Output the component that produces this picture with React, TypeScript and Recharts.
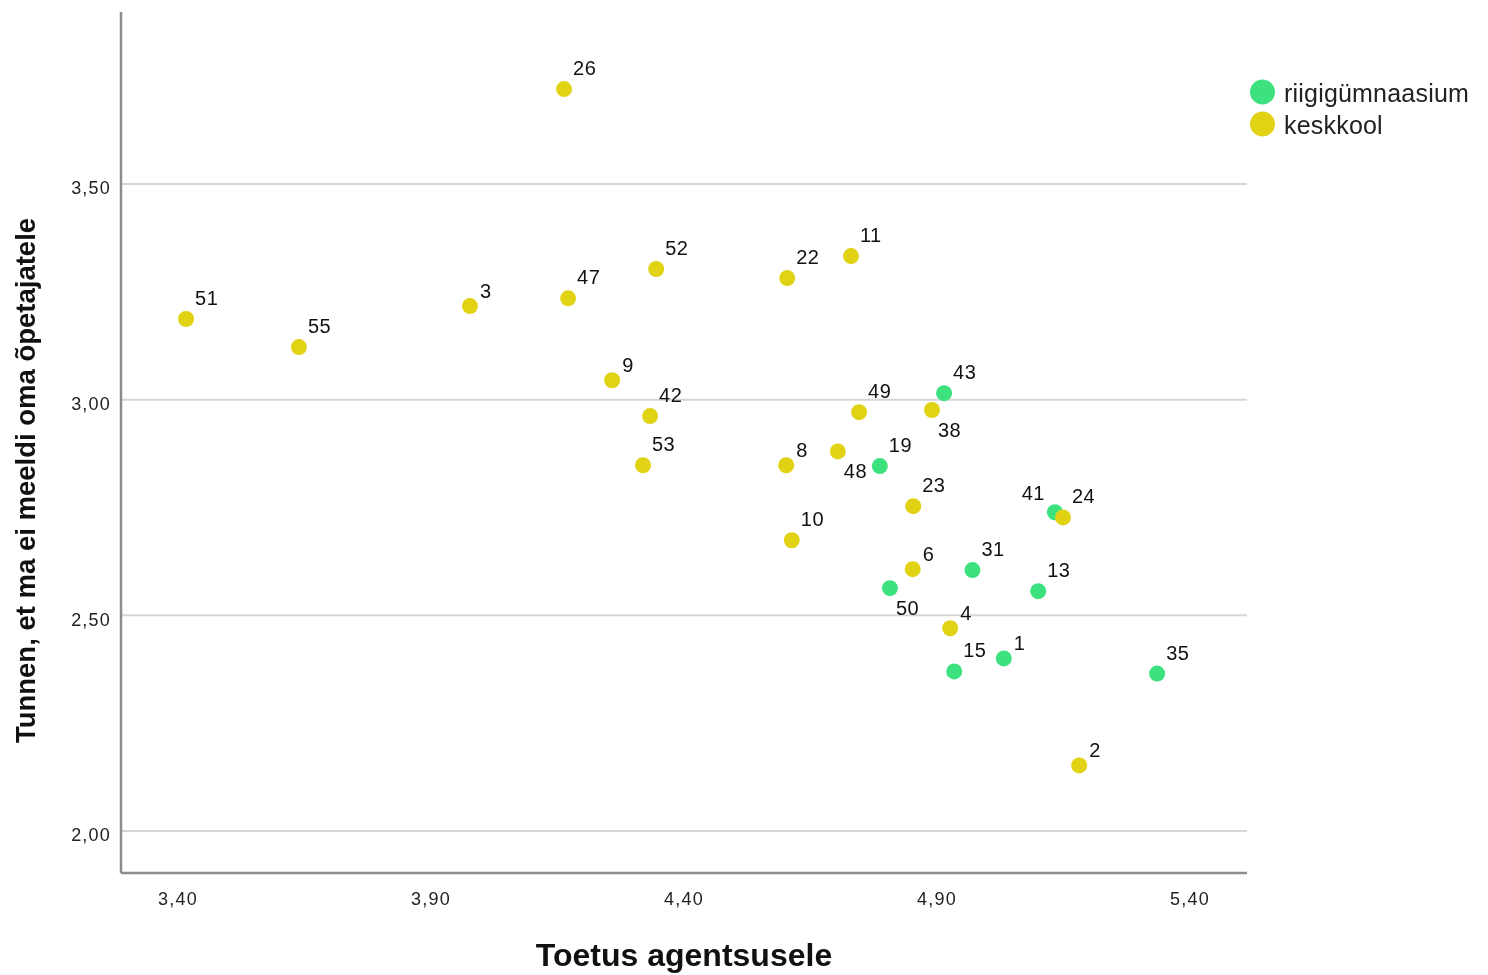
import React from 'react';
import { ScatterChart, Scatter, XAxis, YAxis, CartesianGrid, Legend, Label } from 'recharts';

// ---- data ----
const gymIds = [43, 19, 41, 31, 50, 13, 1, 15, 35];
const gymX = [4.914, 4.787, 5.133, 4.970, 4.807, 5.100, 5.032, 4.934, 5.335];
const gymY = [3.015, 2.846, 2.739, 2.605, 2.563, 2.556, 2.400, 2.370, 2.365];

const kesIds = [26, 51, 55, 3, 47, 52, 22, 11, 9, 42, 53, 8, 49, 48, 38, 23, 24, 10, 6, 4, 2];
const kesX = [4.163, 3.416, 3.639, 3.977, 4.171, 4.345, 4.604, 4.730, 4.258, 4.333, 4.319, 4.602, 4.746, 4.704, 4.890, 4.853, 5.149, 4.613, 4.852, 4.926, 5.181];
const kesY = [3.720, 3.187, 3.122, 3.217, 3.235, 3.303, 3.282, 3.333, 3.045, 2.962, 2.848, 2.848, 2.971, 2.880, 2.976, 2.753, 2.727, 2.674, 2.607, 2.470, 2.152];

const xTicks = [3.4, 3.9, 4.4, 4.9, 5.4];
const yTicks = [2.0, 2.5, 3.0, 3.5];
const xDomain = [3.2874, 5.5126];
const yDomain = [1.9026, 3.8988];

const seriesNames = ['riigigümnaasium', 'keskkool'];
const xTitle = 'Toetus agentsusele';
const yTitle = 'Tunnen, et ma ei meeldi oma õpetajatele';

const gymData = gymIds.map((id, i) => ({ id, x: gymX[i], y: gymY[i] }));
const kesData = kesIds.map((id, i) => ({ id, x: kesX[i], y: kesY[i] }));

// ---- style ----
const GREEN = '#3de27e';
const YELLOW = '#e1d214';
const COLORS = [GREEN, YELLOW];
const FONT = '"Liberation Sans", Arial, sans-serif';
const W = 1472;
const H = 975;

const fmt = (v: number) => v.toFixed(2).replace('.', ',');

const placement: Record<number, string> = { 48: 'br', 38: 'br', 50: 'br', 41: 'tl' };
const offsets: Record<string, { dx: number; dy: number; anchor: 'start' | 'end' }> = {
  tr: { dx: 9, dy: -14, anchor: 'start' },
  trSingle: { dx: 10, dy: -8.5, anchor: 'start' },
  br: { dx: 6, dy: 27, anchor: 'start' },
  tl: { dx: -10, dy: -12, anchor: 'end' },
};

const makeShape = (color: string) => (props: any) => {
  const { cx, cy, payload } = props;
  const key = placement[payload.id] ?? (String(payload.id).length === 1 ? 'trSingle' : 'tr');
  const p = offsets[key];
  return (
    <g>
      <circle cx={cx} cy={cy} r={8} fill={color} />
      <text x={cx + p.dx} y={cy + p.dy} textAnchor={p.anchor} fontSize={20} fontFamily={FONT} fill="#111" letterSpacing={0.5}>
        {payload.id}
      </text>
    </g>
  );
};

const XTick = (props: any) => {
  const { x, y, payload } = props;
  return (
    <text x={x} y={y} dy="0.71em" textAnchor="middle" fontSize={18} fontFamily={FONT} fill="#222" letterSpacing={1.2}>
      {fmt(payload.value)}
    </text>
  );
};

const YTick = (props: any) => {
  const { x, y, payload } = props;
  return (
    <text x={x} y={y + 4} dy="0.355em" textAnchor="end" fontSize={18} fontFamily={FONT} fill="#222" letterSpacing={1.2}>
      {fmt(payload.value)}
    </text>
  );
};

const XTitle = (props: any) => {
  const vb = props.viewBox || { x: 113, y: 873, width: 1126, height: 102 };
  return (
    <text x={vb.x + vb.width / 2} y={vb.y + 93} textAnchor="middle" fontSize={32} fontWeight="bold" fontFamily={FONT} fill="#111">
      {xTitle}
    </text>
  );
};

const YTitle = (props: any) => {
  const vb = props.viewBox || { x: 0, y: 12, width: 113, height: 861 };
  const x = vb.x + 27;
  const y = vb.y + vb.height / 2 + 38;
  return (
    <text x={x} y={y} transform={`rotate(-90, ${x}, ${y})`} textAnchor="middle" fontSize={27.5} fontWeight="bold" fontFamily={FONT} fill="#111">
      {yTitle}
    </text>
  );
};

const LegendContent = () => (
  <svg width={248} height={80} style={{ display: 'block' }}>
    {seriesNames.map((name, i) => (
      <g key={name}>
        <circle cx={22.5} cy={22 + i * 32} r={12.5} fill={COLORS[i]} />
        <text x={44} y={32 + i * 32} fontSize={25} fontFamily={FONT} fill="#222" letterSpacing={0.2}>
          {name}
        </text>
      </g>
    ))}
  </svg>
);

export default function App() {
  return (
    <div style={{ position: 'fixed', left: 8, top: 0, width: W, height: H }}>
      <ScatterChart width={W} height={H} margin={{ top: 12, right: W - 1239, bottom: 0, left: 0 }}>
        <CartesianGrid vertical={false} horizontalValues={yTicks} stroke="#d6d6d6" strokeWidth={2} />
        <XAxis
          type="number"
          dataKey="x"
          domain={xDomain}
          ticks={xTicks}
          allowDataOverflow
          height={102}
          tickSize={0}
          tickMargin={19}
          tickLine={false}
          axisLine={{ stroke: '#8c8c8c', strokeWidth: 2.5 }}
          tick={<XTick />}
          interval={0}
        >
          <Label content={<XTitle />} />
        </XAxis>
        <YAxis
          type="number"
          dataKey="y"
          domain={yDomain}
          ticks={yTicks}
          allowDataOverflow
          width={113}
          tickSize={0}
          tickMargin={10}
          tickLine={false}
          axisLine={{ stroke: '#8c8c8c', strokeWidth: 2.5 }}
          tick={<YTick />}
          interval={0}
        >
          <Label content={<YTitle />} />
        </YAxis>
        <Legend
          layout="horizontal"
          verticalAlign="middle"
          align="center"
          content={<LegendContent />}
          wrapperStyle={{ position: 'absolute', left: 1232, top: 70, width: 248, height: 80 }}
        />
        <Scatter name={seriesNames[0]} data={gymData} fill={GREEN} shape={makeShape(GREEN)} isAnimationActive={false} />
        <Scatter name={seriesNames[1]} data={kesData} fill={YELLOW} shape={makeShape(YELLOW)} isAnimationActive={false} />
      </ScatterChart>
    </div>
  );
}
